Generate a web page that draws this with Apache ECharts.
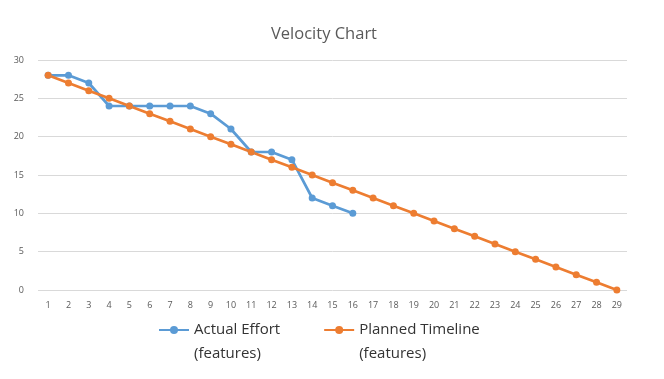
<!DOCTYPE html>
<html><head><meta charset="utf-8">
<script src="https://cdn.jsdelivr.net/npm/echarts@6/dist/echarts.min.js"></script>
<style>html,body{margin:0;padding:0;background:#fff}#c{width:664px;height:379px}</style>
</head><body><div id="c"></div>
<script>
const categories = ['1','2','3','4','5','6','7','8','9','10','11','12','13','14','15','16','17','18','19','20','21','22','23','24','25','26','27','28','29'];
const actualEffort = [28,28,27,24,24,24,24,24,23,21,18,18,17,12,11,10];
const plannedTimeline = [28,27,26,25,24,23,22,21,20,19,18,17,16,15,14,13,12,11,10,9,8,7,6,5,4,3,2,1,0];
const yTicks = {min:0, max:30, interval:5};

const chart = echarts.init(document.getElementById('c'));
chart.setOption({
  animation:false,
  title:{text:'Velocity Chart', left:266, top:21, textStyle:{fontFamily:'Open Sans', fontSize:16.5, fontWeight:'normal', color:'#595959'}},
  grid:{left:38, right:37, top:60, bottom:89},
  legend:{
    left:153, top:289, itemGap:43, itemWidth:30, itemHeight:10,
    data:['Actual Effort\n(features)','Planned Timeline\n(features)'],
    formatter: n => ' \n' + n,
    textStyle:{fontFamily:'Open Sans', fontSize:15, color:'#333', lineHeight:24}
  },
  xAxis:{type:'category', data:categories, boundaryGap:true,
    axisLine:{show:false}, axisTick:{show:false},
    axisLabel:{color:'#595959', fontSize:9, margin:11, fontFamily:'Open Sans'}},
  yAxis:{type:'value', min:yTicks.min, max:yTicks.max, interval:yTicks.interval,
    axisLabel:{color:'#595959', fontSize:9, margin:14, fontFamily:'Open Sans'},
    splitLine:{lineStyle:{color:'#d9d9d9', width:1}}},
  series:[
    {name:'Actual Effort\n(features)', type:'line', data:actualEffort, symbol:'circle', symbolSize:7,
      lineStyle:{color:'#5b9bd5', width:2.7}, itemStyle:{color:'#5b9bd5'}},
    {name:'Planned Timeline\n(features)', type:'line', data:plannedTimeline, symbol:'circle', symbolSize:7,
      lineStyle:{color:'#ed7d31', width:2.7}, itemStyle:{color:'#ed7d31'}}
  ]
});
</script></body></html>
